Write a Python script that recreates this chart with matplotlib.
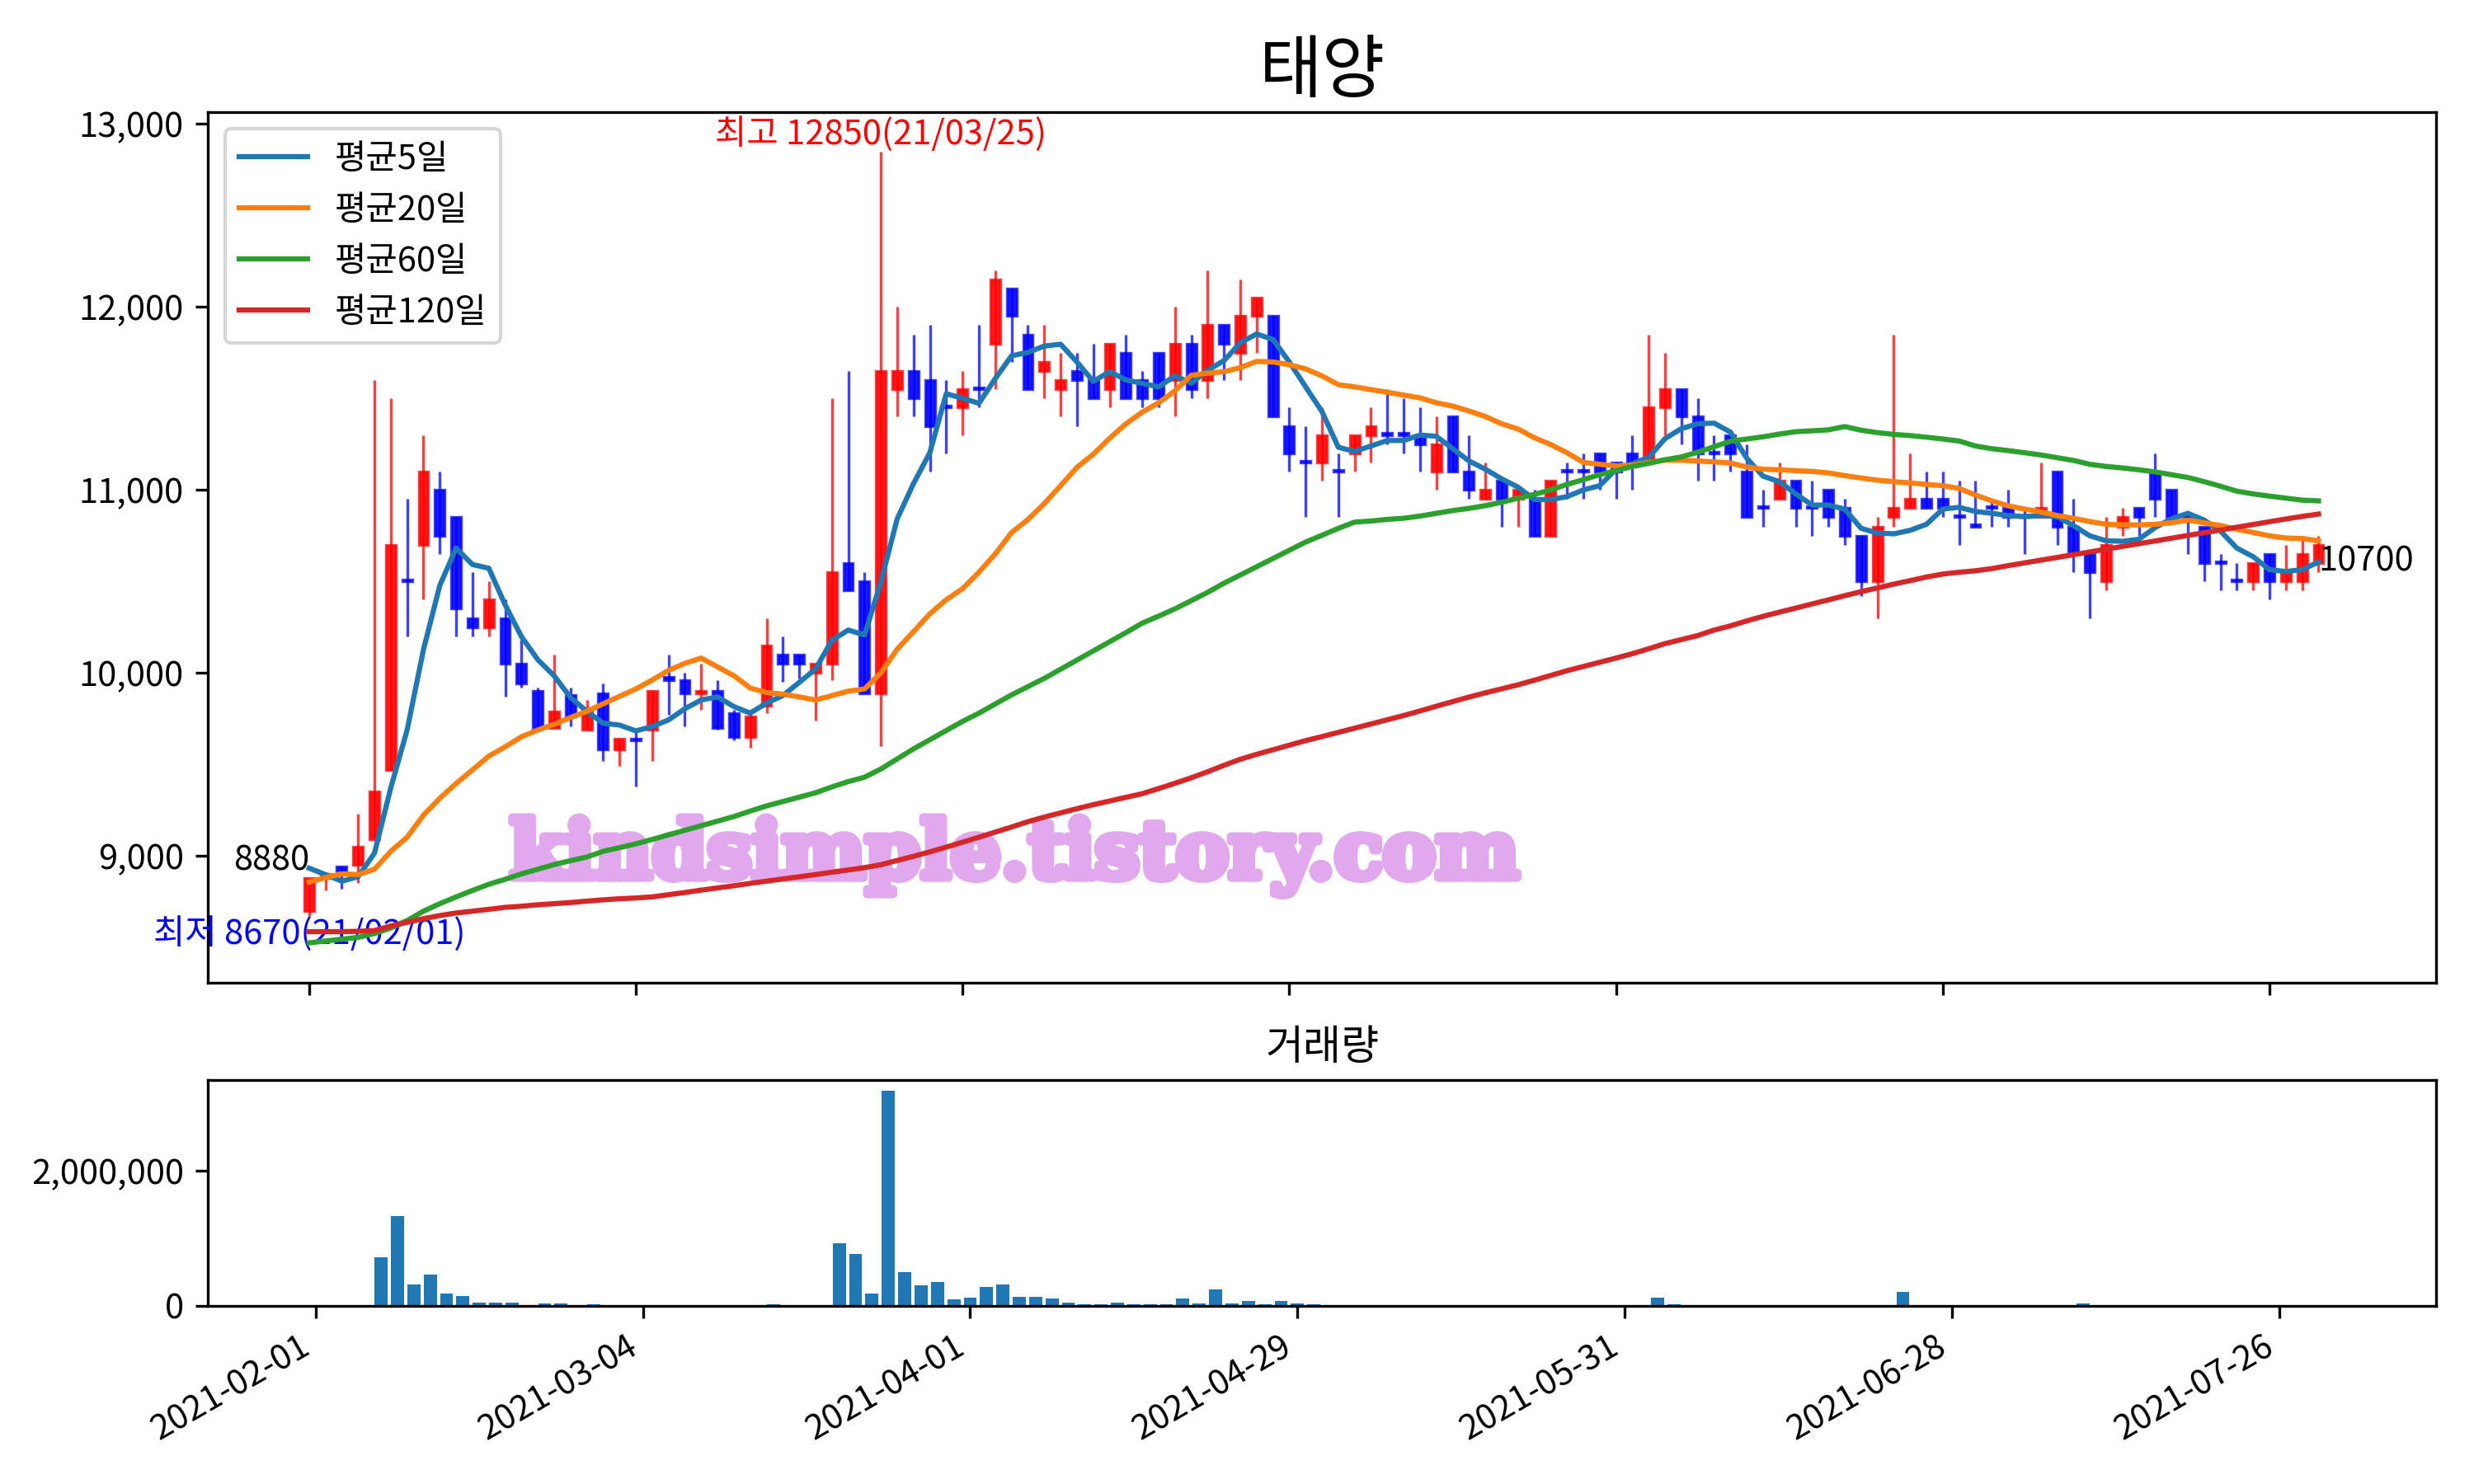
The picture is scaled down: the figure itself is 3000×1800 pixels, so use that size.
import matplotlib
matplotlib.use('Agg')
import matplotlib.pyplot as plt
import matplotlib.patheffects as pe
from matplotlib.ticker import FuncFormatter

plt.rcParams['font.family'] = ['Noto Sans CJK KR', 'DejaVu Sans']

title = '태양'
ma_labels = ['평균5일', '평균20일', '평균60일', '평균120일']
tick_labels = ['2021-02-01', '2021-03-04', '2021-04-01', '2021-04-29',
               '2021-05-31', '2021-06-28', '2021-07-26']
high_date = '21/03/25'
low_date = '21/02/01'

# daily candles (trading days from 2021-02-01)
opens = [8700, 8880, 8940, 8950, 9090, 9470, 10510, 10700, 11000, 10850,
         10300, 10250, 10300, 10050, 9900, 9700, 9880, 9690, 9890, 9580,
         9640, 9690, 9980, 9960, 9890, 9900, 9780, 9650, 9820, 10100,
         10100, 10000, 10050, 10600, 10500, 9890, 11550, 11650, 11600, 11460,
         11450, 11560, 11800, 12100, 11850, 11650, 11550, 11650, 11600, 11550,
         11750, 11600, 11750, 11600, 11800, 11600, 11900, 11750, 11950, 11950,
         11350, 11160, 11150, 11110, 11200, 11300, 11310, 11310, 11300, 11100,
         11400, 11100, 10950, 11050, 10950, 10950, 10750, 11110, 11110, 11200,
         11150, 11200, 11150, 11450, 11550, 11400, 11210, 11300, 11100, 10910,
         10950, 11050, 10910, 11000, 10900, 10750, 10500, 10850, 10900, 10950,
         10950, 10860, 10810, 10910, 10900, 10860, 10850, 11100, 10800, 10650,
         10500, 10800, 10900, 11100, 11000, 10860, 10800, 10610, 10510, 10500,
         10650, 10500, 10500, 10600]
highs = [8880, 8910, 8940, 9230, 11600, 11500, 10950, 11300, 11100, 10850,
         10550, 10500, 10400, 10180, 9920, 10100, 9920, 9850, 9940, 9640,
         9690, 9900, 10100, 10000, 10050, 9960, 9800, 9800, 10300, 10200,
         10100, 10050, 11500, 11650, 10550, 12850, 12000, 11850, 11900, 11600,
         11650, 11900, 12200, 12100, 11900, 11900, 11750, 11750, 11800, 11800,
         11850, 11650, 11750, 12000, 11850, 12200, 11900, 12150, 12050, 11950,
         11450, 11350, 11450, 11200, 11300, 11450, 11550, 11500, 11450, 11400,
         11400, 11300, 11150, 11050, 11000, 11000, 11050, 11150, 11200, 11200,
         11150, 11300, 11850, 11750, 11550, 11500, 11300, 11300, 11250, 11000,
         11150, 11050, 11050, 11000, 10950, 10750, 10850, 11850, 11200, 11100,
         11100, 11050, 11050, 10950, 11000, 10890, 11150, 11100, 10950, 10650,
         10850, 10900, 10900, 11200, 11000, 10860, 10800, 10650, 10600, 10600,
         10650, 10700, 10750, 10750]
lows = [8670, 8810, 8820, 8850, 9090, 9470, 10200, 10400, 10650, 10200,
        10200, 10200, 9870, 9920, 9700, 9700, 9710, 9690, 9520, 9490,
        9380, 9520, 9770, 9710, 9800, 9690, 9630, 9590, 9780, 9950,
        9970, 9740, 9960, 10450, 9890, 9600, 11400, 11400, 11100, 11200,
        11300, 11450, 11550, 11700, 11550, 11500, 11400, 11350, 11500, 11450,
        11500, 11450, 11450, 11400, 11500, 11500, 11600, 11600, 11750, 11400,
        11100, 10850, 11050, 10850, 11100, 11150, 11250, 11200, 11100, 11000,
        11100, 10950, 10950, 10800, 10800, 10750, 10750, 10950, 10950, 11000,
        10950, 11000, 11150, 11300, 11250, 11050, 11050, 11100, 10850, 10800,
        10950, 10800, 10750, 10800, 10700, 10420, 10300, 10800, 10900, 10900,
        10850, 10700, 10800, 10800, 10800, 10650, 10850, 10700, 10550, 10300,
        10450, 10750, 10750, 10850, 10850, 10650, 10500, 10450, 10450, 10450,
        10400, 10450, 10450, 10550]
closes = [8880, 8900, 8920, 9050, 9350, 10700, 10500, 11100, 10750, 10350,
          10250, 10400, 10050, 9940, 9700, 9790, 9760, 9800, 9580, 9640,
          9630, 9900, 9960, 9890, 9900, 9700, 9650, 9760, 10150, 10050,
          10050, 10050, 10550, 10450, 9890, 11650, 11650, 11500, 11350, 11450,
          11550, 11550, 12150, 11950, 11550, 11700, 11600, 11600, 11500, 11800,
          11500, 11500, 11500, 11800, 11550, 11900, 11800, 11950, 12050, 11400,
          11200, 11150, 11300, 11100, 11300, 11350, 11300, 11300, 11250, 11250,
          11100, 11000, 11000, 10950, 11000, 10750, 11050, 11100, 11100, 11100,
          11100, 11150, 11450, 11550, 11400, 11200, 11200, 11200, 10850, 10900,
          11050, 10900, 10900, 10850, 10750, 10500, 10800, 10900, 10950, 10900,
          10900, 10850, 10800, 10900, 10850, 10850, 10900, 10800, 10650, 10550,
          10700, 10850, 10850, 10950, 10850, 10850, 10600, 10600, 10500, 10600,
          10500, 10550, 10650, 10700]

ma5 = [8933, 8898, 8862, 8886, 9015, 9372, 9688, 10127, 10478, 10682,
       10592, 10572, 10372, 10198, 10072, 9984, 9866, 9790, 9725, 9715,
       9683, 9707, 9743, 9804, 9852, 9869, 9816, 9780, 9835, 9876,
       9948, 10021, 10178, 10234, 10207, 10497, 10842, 11035, 11204, 11525,
       11501, 11473, 11608, 11733, 11751, 11786, 11796, 11699, 11593, 11646,
       11601, 11582, 11563, 11623, 11583, 11654, 11706, 11804, 11852, 11822,
       11699, 11563, 11428, 11233, 11210, 11240, 11270, 11270, 11300, 11293,
       11225, 11158, 11113, 11060, 11015, 10947, 10947, 10963, 11000, 11023,
       11113, 11143, 11178, 11280, 11335, 11361, 11365, 11316, 11173, 11075,
       11045, 10978, 10917, 10917, 10895, 10790, 10764, 10760, 10779, 10812,
       10895, 10905, 10882, 10872, 10860, 10854, 10860, 10854, 10805, 10749,
       10722, 10719, 10730, 10794, 10842, 10872, 10835, 10775, 10682, 10635,
       10564, 10554, 10564, 10606]
ma20 = [8857, 8882, 8902, 8898, 8927, 9025, 9102, 9223, 9315, 9396,
        9470, 9545, 9596, 9651, 9688, 9719, 9756, 9790, 9831, 9872,
        9912, 9961, 10014, 10052, 10081, 10033, 9985, 9917, 9893, 9884,
        9869, 9852, 9876, 9900, 9912, 10000, 10130, 10226, 10323, 10400,
        10460, 10550, 10650, 10767, 10838, 10925, 11023, 11123, 11195, 11282,
        11361, 11425, 11476, 11541, 11626, 11638, 11646, 11668, 11702, 11699,
        11684, 11661, 11623, 11575, 11563, 11548, 11533, 11518, 11503, 11476,
        11458, 11431, 11401, 11361, 11333, 11285, 11248, 11203, 11150, 11140,
        11131, 11135, 11150, 11162, 11162, 11158, 11153, 11147, 11125, 11113,
        11110, 11105, 11101, 11093, 11078, 11065, 11053, 11045, 11038, 11030,
        11023, 11008, 10972, 10940, 10913, 10895, 10880, 10860, 10845, 10827,
        10812, 10809, 10809, 10812, 10820, 10835, 10820, 10805, 10785, 10767,
        10749, 10737, 10734, 10722]
ma60 = [8525, 8535, 8545, 8555, 8576, 8606, 8647, 8698, 8739, 8776,
        8811, 8845, 8872, 8902, 8927, 8953, 8974, 8994, 9025, 9045,
        9066, 9090, 9115, 9140, 9165, 9190, 9215, 9245, 9273, 9297,
        9321, 9345, 9377, 9406, 9430, 9475, 9530, 9585, 9635, 9685,
        9735, 9780, 9830, 9880, 9925, 9970, 10020, 10070, 10120, 10170,
        10220, 10272, 10310, 10350, 10395, 10440, 10490, 10535, 10580, 10625,
        10670, 10715, 10752, 10790, 10824, 10830, 10839, 10845, 10857, 10872,
        10887, 10899, 10914, 10932, 10955, 10975, 11000, 11030, 11056, 11083,
        11105, 11128, 11145, 11165, 11180, 11206, 11236, 11266, 11278, 11290,
        11305, 11318, 11323, 11328, 11346, 11326, 11313, 11303, 11297, 11288,
        11278, 11267, 11240, 11225, 11215, 11203, 11191, 11176, 11161, 11140,
        11128, 11120, 11110, 11098, 11083, 11068, 11045, 11020, 10993, 10978,
        10966, 10955, 10944, 10940]
ma120 = [8586, 8586, 8586, 8588, 8592, 8617, 8637, 8657, 8674, 8688,
         8698, 8708, 8719, 8725, 8733, 8739, 8745, 8753, 8760, 8766,
         8770, 8776, 8788, 8800, 8813, 8825, 8837, 8850, 8862, 8874,
         8886, 8898, 8911, 8923, 8936, 8952, 8975, 8998, 9022, 9048,
         9075, 9102, 9130, 9158, 9187, 9212, 9235, 9258, 9280, 9300,
         9320, 9340, 9368, 9397, 9427, 9460, 9495, 9528, 9555, 9580,
         9605, 9630, 9652, 9675, 9698, 9721, 9744, 9767, 9792, 9818,
         9843, 9868, 9891, 9913, 9935, 9960, 9986, 10012, 10035, 10058,
         10081, 10105, 10132, 10160, 10182, 10204, 10234, 10257, 10284, 10309,
         10332, 10354, 10377, 10399, 10422, 10444, 10464, 10485, 10504, 10524,
         10540, 10550, 10558, 10570, 10586, 10601, 10616, 10631, 10646, 10661,
         10676, 10691, 10706, 10721, 10736, 10751, 10766, 10781, 10796, 10811,
         10826, 10841, 10855, 10868]

volume = [2000, 2000, 2000, 12000, 718000, 1327000, 316000, 462000, 183000, 146000,
          49000, 49000, 49000, 12000, 37000, 37000, 12000, 24000, 12000, 3000,
          12000, 3000, 12000, 3000, 3000, 3000, 3000, 3000, 24000, 3000,
          3000, 3000, 925000, 767000, 183000, 3177000, 499000, 304000, 353000, 97000,
          122000, 280000, 316000, 134000, 134000, 110000, 49000, 24000, 24000, 49000,
          24000, 24000, 24000, 110000, 37000, 243000, 37000, 73000, 24000, 73000,
          37000, 24000, 12000, 12000, 3000, 3000, 3000, 12000, 12000, 3000,
          3000, 12000, 12000, 12000, 3000, 3000, 3000, 3000, 3000, 3000,
          3000, 3000, 122000, 24000, 3000, 12000, 3000, 3000, 12000, 3000,
          3000, 3000, 3000, 3000, 3000, 12000, 12000, 207000, 12000, 3000,
          3000, 3000, 3000, 3000, 3000, 3000, 3000, 12000, 37000, 12000,
          3000, 3000, 3000, 3000, 3000, 3000, 3000, 3000, 3000, 3000,
          3000, 3000, 3000, 3000]

x = list(range(len(closes)))
comma = FuncFormatter(lambda v, p: f'{v:,.0f}')

fig = plt.figure(figsize=(10, 6), dpi=300)
ax = fig.add_axes([0.084, 0.338, 0.9007, 0.5867])
ax2 = fig.add_axes([0.084, 0.12, 0.9007, 0.152])

# candles: red up, blue down
face = [(1, 0, 0, 0.9) if c >= o else (0, 0, 1, 0.9) for o, c in zip(opens, closes)]
edge = [(1, 0, 0, 0.75) if c >= o else (0, 0, 1, 0.75) for o, c in zip(opens, closes)]
ax.vlines(x, lows, highs, colors=edge, linewidth=0.8, zorder=2)
ax.bar(x, [abs(c - o) for o, c in zip(opens, closes)],
       bottom=[min(o, c) for o, c in zip(opens, closes)],
       width=0.6, color=face, edgecolor=edge, linewidth=0.8, zorder=3)

for ma, lab in zip([ma5, ma20, ma60, ma120], ma_labels):
    ax.plot(x, ma, label=lab, zorder=4)

ax.legend(loc='upper left')
ax.set_title(title, fontsize=20)

hi = highs.index(max(highs))
lo = lows.index(min(lows))
ax.text(hi, highs[hi], f'최고 {highs[hi]}({high_date})', color='red', ha='center', va='bottom')
ax.text(lo, lows[lo], f'최저 {lows[lo]}({low_date})', color='blue', ha='center', va='top')
ax.text(x[0], closes[0], f'{closes[0]}', ha='right', va='bottom')
ax.text(x[-1], closes[-1], f'{closes[-1]}', ha='left', va='top')

# watermark
ax.text(0.362, 0.145, 'kindsimple.tistory.com', transform=ax.transAxes,
        fontsize=23, fontweight='bold', family='DejaVu Serif',
        color='#E2A8EE', ha='center', va='center', zorder=1,
        path_effects=[pe.withStroke(linewidth=2.5, foreground='#E2A8EE')])

ax.set_xlim(-6.2, 130.2)
ax.set_xticks(range(0, len(x), 20))
ax.set_xticklabels([])
ax.yaxis.set_major_formatter(comma)

ax2.bar(x, volume)
ax2.set_title('거래량')
ax2.set_xticks(range(0, len(x), 20))
ax2.set_xticklabels(tick_labels, rotation=30, ha='right')
ax2.set_yticks([0, 2000000])
ax2.yaxis.set_major_formatter(comma)

fig.savefig('out.png', dpi=300)
